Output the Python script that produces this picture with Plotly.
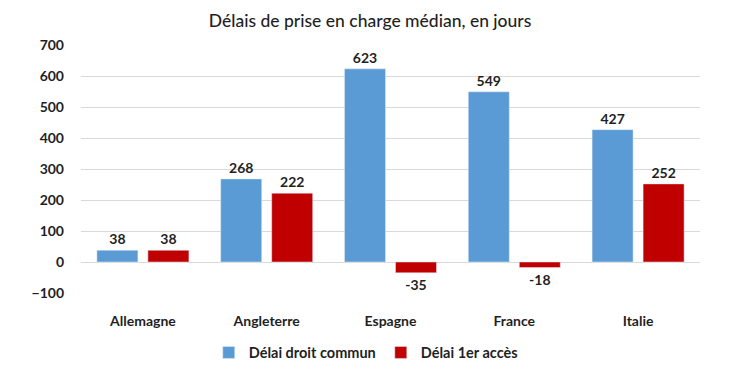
import plotly.graph_objects as go

categories = ["Allemagne", "Angleterre", "Espagne", "France", "Italie"]
droit_commun = [38, 268, 623, 549, 427]
premier_acces = [38, 222, -35, -18, 252]
tick_vals = [-100, 0, 100, 200, 300, 400, 500, 600, 700]

font_fam = "Lato, Open Sans, sans-serif"
txt_col = "#1f1f1f"
fig = go.Figure()
fig.add_trace(go.Bar(x=categories, y=droit_commun, name="Délai droit commun",
                     marker_color="#5B9BD5", text=droit_commun, textposition="outside",
                     textfont=dict(size=14, color=txt_col, family=font_fam, weight="bold"),
                     cliponaxis=False))
fig.add_trace(go.Bar(x=categories, y=premier_acces, name="Délai 1er accès",
                     marker_color="#C00000", text=premier_acces, textposition="outside",
                     textfont=dict(size=14, color=txt_col, family=font_fam, weight="bold"),
                     cliponaxis=False))

fig.update_layout(
    width=754, height=376,
    margin=dict(l=73, r=62, t=37, b=91, autoexpand=False),
    paper_bgcolor="white", plot_bgcolor="white",
    barmode="group", bargap=0.176, bargroupgap=0.196,
    title=dict(text="Délais de prise en charge médian, en jours", x=0.467, xanchor="center",
               xref="paper", yref="container", y=0.966, yanchor="middle",
               font=dict(size=17.5, color=txt_col, family=font_fam, weight=500)),
    font=dict(family=font_fam, color=txt_col),
    legend=dict(orientation="h", x=0.46, xanchor="center", y=-0.24, yanchor="middle",
                font=dict(size=14.5, color=txt_col, family=font_fam, weight="bold"),
                itemwidth=30, tracegroupgap=0),
    yaxis=dict(range=[-100, 700], tickvals=tick_vals, showgrid=True, gridcolor="#D9D9D9",
               zeroline=True, zerolinecolor="#D9D9D9", zerolinewidth=1, automargin=False,
               tickfont=dict(size=14, color=txt_col, family=font_fam, weight="bold"),
               ticklabelstandoff=16),
    xaxis=dict(showline=False, automargin=False,
               tickfont=dict(size=14, color=txt_col, family=font_fam, weight="bold"),
               ticklabelstandoff=18),
)
fig.write_html("out.html")
